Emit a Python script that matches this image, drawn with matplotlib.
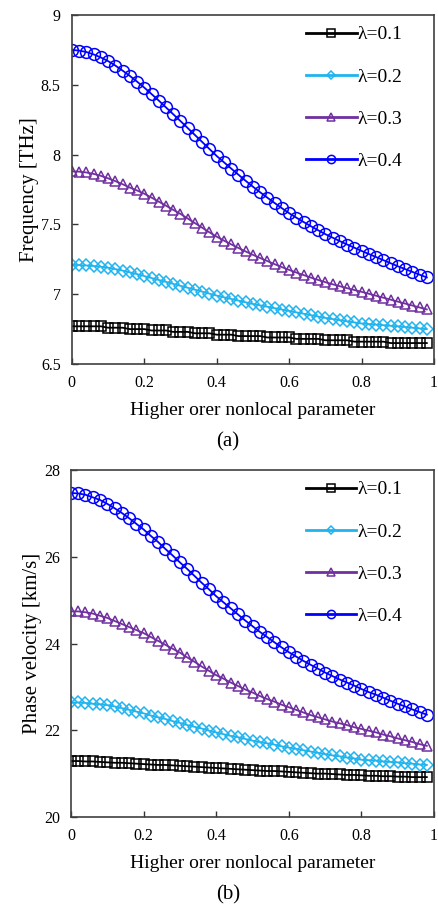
import matplotlib.pyplot as plt
import numpy as np

plt.rcParams['font.family'] = ['Liberation Serif', 'DejaVu Serif']

# higher order nonlocal parameter
x = np.round(np.arange(0, 0.99, 0.02), 2)

labels = ['λ=0.1', 'λ=0.2', 'λ=0.3', 'λ=0.4']
colors = ['black', '#1fb4ee', '#7030a0', '#0000ff']
markers = ['s', 'D', '^', 'o']

# (a) frequency [THz]
f1 = [6.77, 6.77, 6.77, 6.77, 6.77, 6.76, 6.76, 6.76, 6.75, 6.75,
      6.75, 6.74, 6.74, 6.74, 6.73, 6.73, 6.73, 6.72, 6.72, 6.72,
      6.71, 6.71, 6.71, 6.70, 6.70, 6.70, 6.70, 6.69, 6.69, 6.69,
      6.69, 6.68, 6.68, 6.68, 6.68, 6.67, 6.67, 6.67, 6.67, 6.66,
      6.66, 6.66, 6.66, 6.66, 6.65, 6.65, 6.65, 6.65, 6.65, 6.65]
f2 = [7.210, 7.209, 7.206, 7.202, 7.197, 7.190, 7.180, 7.169, 7.157, 7.144,
      7.130, 7.116, 7.102, 7.088, 7.074, 7.060, 7.046, 7.032, 7.018, 7.004,
      6.990, 6.978, 6.966, 6.954, 6.942, 6.930, 6.920, 6.910, 6.900, 6.890,
      6.880, 6.870, 6.860, 6.850, 6.840, 6.830, 6.822, 6.814, 6.806, 6.798,
      6.790, 6.786, 6.782, 6.778, 6.774, 6.770, 6.765, 6.760, 6.755, 6.750]
f3 = [7.880, 7.878, 7.872, 7.862, 7.848, 7.830, 7.810, 7.788, 7.764, 7.743,
      7.720, 7.692, 7.663, 7.634, 7.604, 7.575, 7.542, 7.509, 7.476, 7.443,
      7.412, 7.384, 7.357, 7.331, 7.306, 7.282, 7.259, 7.237, 7.215, 7.194,
      7.174, 7.155, 7.137, 7.119, 7.102, 7.086, 7.071, 7.057, 7.043, 7.030,
      7.017, 7.003, 6.989, 6.975, 6.961, 6.947, 6.933, 6.919, 6.905, 6.891]
f4 = [8.750, 8.745, 8.735, 8.718, 8.696, 8.670, 8.638, 8.602, 8.564, 8.523,
      8.480, 8.434, 8.387, 8.338, 8.289, 8.240, 8.190, 8.140, 8.090, 8.040,
      7.990, 7.945, 7.900, 7.856, 7.812, 7.770, 7.730, 7.691, 7.653, 7.616,
      7.580, 7.548, 7.517, 7.487, 7.458, 7.430, 7.405, 7.380, 7.356, 7.333,
      7.310, 7.288, 7.266, 7.244, 7.222, 7.200, 7.180, 7.160, 7.140, 7.120]

# (b) phase velocity [km/s]
v1 = [21.29, 21.29, 21.28, 21.28, 21.27, 21.26, 21.25, 21.25, 21.24, 21.23,
      21.22, 21.21, 21.20, 21.20, 21.19, 21.18, 21.17, 21.16, 21.15, 21.14,
      21.13, 21.12, 21.11, 21.10, 21.09, 21.08, 21.07, 21.06, 21.06, 21.05,
      21.04, 21.03, 21.02, 21.01, 21.00, 21.00, 20.99, 20.98, 20.97, 20.97,
      20.96, 20.95, 20.95, 20.94, 20.94, 20.93, 20.93, 20.92, 20.92, 20.92]
v2 = [22.64, 22.64, 22.63, 22.61, 22.60, 22.58, 22.55, 22.51, 22.47, 22.43,
      22.39, 22.34, 22.30, 22.26, 22.21, 22.17, 22.12, 22.08, 22.04, 21.99,
      21.95, 21.91, 21.87, 21.84, 21.80, 21.76, 21.73, 21.70, 21.67, 21.63,
      21.60, 21.57, 21.54, 21.51, 21.48, 21.45, 21.42, 21.40, 21.37, 21.35,
      21.32, 21.31, 21.30, 21.28, 21.27, 21.26, 21.24, 21.23, 21.21, 21.20]
v3 = [24.74, 24.74, 24.72, 24.69, 24.64, 24.59, 24.52, 24.45, 24.38, 24.31,
      24.24, 24.15, 24.06, 23.97, 23.88, 23.79, 23.68, 23.58, 23.47, 23.37,
      23.27, 23.19, 23.10, 23.02, 22.94, 22.87, 22.79, 22.72, 22.66, 22.59,
      22.53, 22.47, 22.41, 22.35, 22.30, 22.25, 22.20, 22.16, 22.12, 22.07,
      22.03, 21.99, 21.95, 21.90, 21.86, 21.81, 21.77, 21.73, 21.68, 21.64]
v4 = [27.47, 27.46, 27.43, 27.37, 27.31, 27.22, 27.12, 27.01, 26.89, 26.76,
      26.63, 26.48, 26.34, 26.18, 26.03, 25.87, 25.72, 25.56, 25.40, 25.25,
      25.09, 24.95, 24.81, 24.67, 24.53, 24.40, 24.27, 24.15, 24.03, 23.91,
      23.80, 23.70, 23.60, 23.51, 23.42, 23.33, 23.25, 23.17, 23.10, 23.03,
      22.95, 22.88, 22.82, 22.75, 22.68, 22.61, 22.55, 22.48, 22.42, 22.36]

xticks = [0, 0.2, 0.4, 0.6, 0.8, 1]
xticklabels = ['0', '0.2', '0.4', '0.6', '0.8', '1']

fig = plt.figure(figsize=(4.38, 9.10), dpi=100)
ax1 = fig.add_axes([0.164, 0.600, 0.827, 0.3835])
ax2 = fig.add_axes([0.162, 0.1022, 0.829, 0.3813])

panels = [
    (ax1, [f1, f2, f3, f4], 'Frequency [THz]', (6.5, 9), [6.5, 7, 7.5, 8, 8.5, 9],
     ['6.5', '7', '7.5', '8', '8.5', '9'], '(a)', 0.504),
    (ax2, [v1, v2, v3, v4], 'Phase velocity [km/s]', (20, 28), [20, 22, 24, 26, 28],
     ['20', '22', '24', '26', '28'], '(b)', 0.006),
]

msizes = [7.5, 6.5, 7.5, 8.5]

for ax, series, ylab, ylim, yt, ytl, cap, capy in panels:
    for ys, lab, c, m, ms in zip(series, labels, colors, markers, msizes):
        ax.plot(x, ys, color=c, marker=m, ms=ms, mfc='none', mec=c, mew=1.1,
                lw=1.3, label=lab)
    ax.set_xlim(0, 1)
    ax.set_ylim(*ylim)
    ax.set_xticks(xticks)
    ax.set_xticklabels(xticklabels)
    ax.set_yticks(yt)
    ax.set_yticklabels(ytl)
    ax.tick_params(direction='in', length=4, width=1, labelsize=11.5, pad=8,
                   top=False, right=False, colors='#333333', labelcolor='black')
    for s in ax.spines.values():
        s.set_color('#404040')
        s.set_linewidth(1.2)
    ax.set_ylabel(ylab, fontsize=15, labelpad=1)
    ax.set_xlabel('Higher orer nonlocal parameter', fontsize=14, labelpad=8)
    leg = ax.legend(loc='upper left', bbox_to_anchor=(0.62, 0.997), frameon=False,
                    fontsize=14, handlelength=2.6, handletextpad=0.05,
                    labelspacing=1.26, borderpad=0, markerscale=0.7)
    for h in leg.legend_handles:
        h.set_linewidth(2)
    fig.text(0.52, capy, cap, ha='center', va='bottom', fontsize=15)

fig.savefig('out.png', dpi=100)
